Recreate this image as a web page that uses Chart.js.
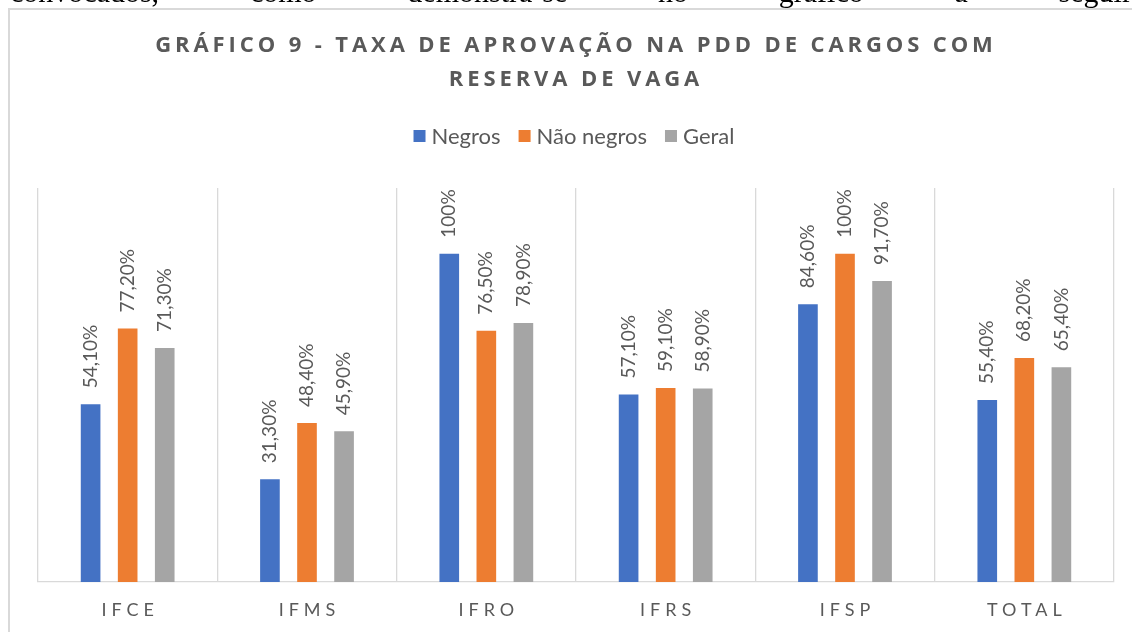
<!DOCTYPE html>
<html>
<head>
<meta charset="utf-8">
<script src="https://cdn.jsdelivr.net/npm/chart.js@4.4.0/dist/chart.umd.min.js"></script>
<style>
html, body { margin:0; padding:0; background:#fff; overflow:hidden; width:1132px; height:632px; }
#moldura { position:absolute; left:8px; top:8px; width:1200px; height:700px; border:2px solid #d9d9d9; box-sizing:border-box; }
#box { position:absolute; left:0; top:0; width:1132px; height:632px; }
#texto { position:absolute; left:10px; top:-23px; width:1122px; font:30px/30px "Liberation Serif", serif; color:#000;
  display:flex; justify-content:space-between; white-space:nowrap; z-index:2; }
</style>
</head>
<body>
<div id="texto"><span>convocados,</span><span>como</span><span>demonstra-se</span><span>no</span><span>gráfico</span><span>a</span><span>seguir</span></div>
<div id="moldura"></div>
<div id="box"><canvas id="grafico"></canvas></div>
<script>
// dados do grafico 9
var categorias = ['IFCE', 'IFMS', 'IFRO', 'IFRS', 'IFSP', 'TOTAL'];
var negros = [54.1, 31.3, 100, 57.1, 84.6, 55.4];
var naoNegros = [77.2, 48.4, 76.5, 59.1, 100, 68.2];
var geral = [71.3, 45.9, 78.9, 58.9, 91.7, 65.4];
var series = ['Negros', 'Não negros', 'Geral'];
var cores = ['#4472C4', '#ED7D31', '#A5A5A5'];
var titulo = ['GRÁFICO 9 - TAXA DE APROVAÇÃO NA PDD DE CARGOS COM', 'RESERVA DE VAGA'];

function fmt(v) {
	if (Number.isInteger(v)) return v + '%';
	return v.toFixed(2).replace('.', ',') + '%';
}

var cinza = '#595959';
var centro = 574;

var desenhos = {
	id: 'desenhos',
	afterDatasetsDraw: function (chart) {
		var ctx = chart.ctx;
		ctx.save();
		ctx.font = '19px Lato';
		ctx.fillStyle = cinza;
		ctx.textAlign = 'left';
		ctx.textBaseline = 'middle';
		chart.data.datasets.forEach(function (ds, i) {
			chart.getDatasetMeta(i).data.forEach(function (bar, j) {
				ctx.save();
				ctx.translate(bar.x, bar.y - 16);
				ctx.rotate(-Math.PI / 2);
				ctx.fillText(fmt(ds.data[j]), 0, 0);
				ctx.restore();
			});
		});
		ctx.restore();
	},
	afterDraw: function (chart) {
		var ctx = chart.ctx;

		// titulo
		ctx.save();
		ctx.font = 'bold 22px "Open Sans"';
		ctx.letterSpacing = '3.9px';
		ctx.fillStyle = cinza;
		ctx.textAlign = 'center';
		ctx.textBaseline = 'middle';
		ctx.fillText(titulo[0], centro + 2, 46);
		ctx.fillText(titulo[1], centro + 2, 80);
		ctx.restore();

		// legenda
		ctx.save();
		ctx.font = '22px Lato';
		ctx.textBaseline = 'middle';
		var caixa = 12, gap = 6, entre = 18;
		var total = 0;
		chart.data.datasets.forEach(function (ds, i) {
			total += caixa + gap + ctx.measureText(ds.label).width + (i > 0 ? entre : 0);
		});
		var x = centro - total / 2;
		chart.data.datasets.forEach(function (ds, i) {
			if (i > 0) x += entre;
			ctx.fillStyle = ds.backgroundColor;
			ctx.fillRect(x, 136 - caixa / 2, caixa, caixa);
			x += caixa + gap;
			ctx.fillStyle = cinza;
			ctx.fillText(ds.label, x, 137);
			x += ctx.measureText(ds.label).width;
		});
		ctx.restore();

		// eixo x
		ctx.save();
		ctx.font = '18px Lato';
		ctx.letterSpacing = '5px';
		ctx.fillStyle = cinza;
		ctx.textAlign = 'center';
		ctx.textBaseline = 'middle';
		var sx = chart.scales.x;
		chart.data.labels.forEach(function (lb, i) {
			ctx.fillText(lb, sx.getPixelForValue(i) + 2.5, 610);
		});
		ctx.restore();
	}
};

var ctx = document.getElementById('grafico').getContext('2d');
var grafico = new Chart(ctx, {
	type: 'bar',
	data: {
		labels: categorias,
		datasets: [
			{ label: series[0], data: negros, backgroundColor: cores[0] },
			{ label: series[1], data: naoNegros, backgroundColor: cores[1] },
			{ label: series[2], data: geral, backgroundColor: cores[2] }
		]
	},
	options: {
		responsive: true,
		maintainAspectRatio: false,
		animation: false,
		categoryPercentage: 0.62,
		barPercentage: 0.53,
		layout: { padding: { top: 188, left: 38, right: 18, bottom: 50 } },
		plugins: {
			legend: { display: false },
			title: { display: false },
			tooltip: { enabled: false }
		},
		scales: {
			x: {
				grid: { color: '#d9d9d9', lineWidth: 1.3, drawTicks: false, offset: true },
				border: { color: '#d9d9d9', width: 1.3 },
				ticks: { display: false }
			},
			y: { display: false, min: 0, max: 120 }
		}
	},
	plugins: [desenhos]
});
</script>
</body>
</html>
